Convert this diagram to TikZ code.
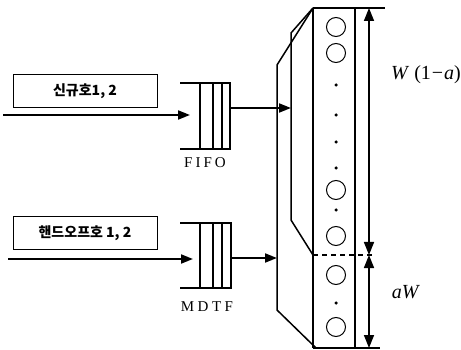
\documentclass[tikz,border=0pt]{standalone}
\usepackage{fontspec}
\setmainfont{Liberation Serif}
\newfontfamily\krfont{Noto Sans CJK KR}
\usetikzlibrary{arrows.meta}
\tikzset{
  lbl/.style={draw, line width=1pt, minimum width=144pt, minimum height=33pt, inner sep=0pt, font=\krfont\bfseries\fontsize{14}{14}\selectfont},
  arr/.style={line width=1.8pt, -{Triangle[length=12pt,width=9pt]}},
  dim/.style={line width=1.5pt, {Triangle[length=13pt,width=10pt]}-{Triangle[length=13pt,width=10pt]}},
  que/.style={line width=1.8pt},
  slot/.style={circle, draw, line width=1pt, minimum size=19pt, inner sep=0pt},
  dot/.style={circle, fill, inner sep=0pt, minimum size=3.5pt},
  qlab/.style={font=\fontsize{15}{15}\selectfont},
  big/.style={font=\fontsize{20}{20}\selectfont}
}
\begin{document}
\begin{tikzpicture}[x=1pt,y=-1pt,line join=miter]
\useasboundingbox (0,0) rectangle (461,350);
% label boxes
\node[lbl] (b1) at (85,91.5) {신규호1, 2};
\node[lbl] (b2) at (85,233.5) {핸드오프호 1, 2};
% queues
\draw[que] (180,83) -- (230,83) -- (230,149) -- (180,149);
\foreach \x in {200,213,222} \draw[line width=1.4pt] (\x,83) -- (\x,149);
\draw[que] (180,223) -- (231,223) -- (231,288) -- (180,288);
\foreach \x in {200,213,222} \draw[line width=1.4pt] (\x,223) -- (\x,288);
\node[qlab] (fifo) at (205,163) {F\kern3pt I\kern3pt F\kern3pt O};
\node[qlab] (mdtf) at (207,307) {M\kern3.5pt D\kern3.5pt T\kern3.5pt F};
% coordinates
\coordinate (s1) at (3,115);
\coordinate (q1in) at (190,115);
\coordinate (s2) at (8,259);
\coordinate (q2in) at (193,259);
\coordinate (q1out) at (230,108);
\coordinate (inner1) at (291,108);
\coordinate (q2out) at (231,258);
\coordinate (outer1) at (277,258);
\coordinate (ct) at (313,8);
\coordinate (cb) at (313,348);
\coordinate (cd) at (313,255);
\coordinate (ar) at (369,8);
\coordinate (am) at (369,255);
\coordinate (ab) at (369,348);
% column
\draw[line width=1.4pt] (ct) -- (385,8);
\draw[line width=1.4pt] (cb) -- (380,348);
\draw[line width=1.1pt] (ct) -- (cb);
\draw[line width=1.1pt] (355,8) -- (355,348);
\draw[line width=1.5pt, dash pattern=on 5pt off 4pt] (cd) -- (373,255);
% funnels
\draw[line width=1.5pt] (ct) -- (277,65) -- (277,310) -- (316,348);
\draw[line width=1.5pt] (ct) -- (291,33) -- (291,220) -- (cd);
% arrows
\draw[arr] (s1) -- (q1in);
\draw[arr] (s2) -- (q2in);
\draw[arr] (q1out) -- (inner1);
\draw[arr] (q2out) -- (outer1);
\draw[dim] (ar) -- (am);
\draw[dim] (am) -- (ab);
% slots
\foreach \n/\y in {c1/27,c2/53,c3/190,c4/236,c5/275,c6/327} \node[slot] (\n) at (336,\y) {};
\foreach \n/\y in {d1/85,d2/115,d3/142,d4/168,d5/210,d6/303} \node[dot] (\n) at (336,\y) {};
% labels
\node[big] (w1) at (426,75) {\textit{W} (1\kern1pt−\kern1pt\textit{a})};
\node[big] (aw) at (406,292) {\textit{aW}};
\end{tikzpicture}
\end{document}
